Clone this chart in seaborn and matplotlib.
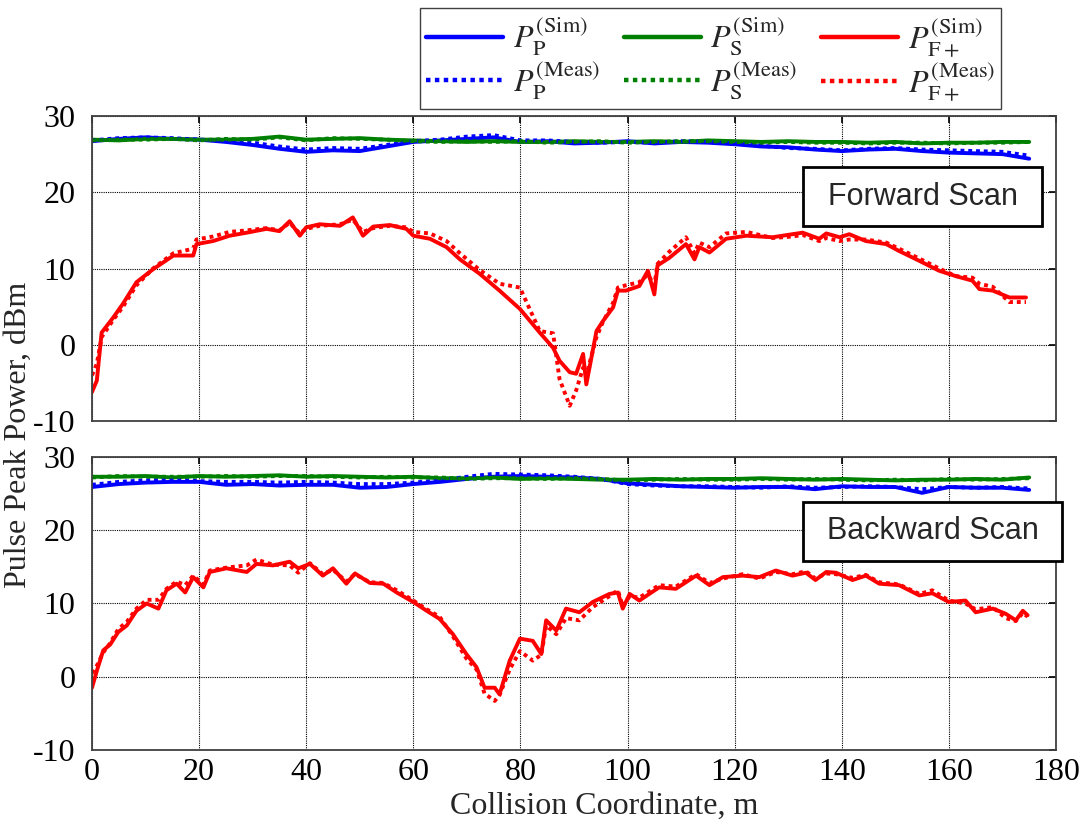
import numpy as np
import pandas as pd
import matplotlib
matplotlib.use('Agg')
import matplotlib.pyplot as plt
import seaborn as sns
from matplotlib.patches import Rectangle

# Coarse grid for the flat P and S traces (m)
x_flat = np.arange(0, 176, 5)

# ---------------- Forward scan ----------------
fwd_x = [0, 0.9, 1.8, 4, 5.8, 8.3, 11.4, 15.2, 18.9, 19.5, 22.6, 25.7, 28.9, 32.6, 35, 36.9, 38.8, 40,
         42.5, 46.3, 48.7, 50.6, 52.5, 55.6, 58.7, 60, 63.1, 66.2, 68.7, 72.4, 76.1, 79.9, 83.6, 86.1, 87.3,
         89.2, 90.4, 91.7, 92.3, 94.2, 95.4, 97.3, 98.2, 99.7, 102.2, 103.8, 105, 105.6, 107.8, 110.9, 112.5,
         113.4, 115.3, 118.4, 122.2, 127.1, 130.8, 132.7, 135.8, 137.1, 139.6, 141.4, 144.5, 148.3, 150.7,
         154.5, 158.2, 161.3, 164.4, 165.7, 168.2, 171.3, 174.4]
fwd_f_sim = [-6.2, -4.7, 1.6, 3.6, 5.4, 8.2, 9.9, 11.7, 11.7, 13.2, 13.6, 14.3, 14.7, 15.2, 14.9, 16.2, 14.3,
             15.4, 15.8, 15.6, 16.7, 14.3, 15.5, 15.7, 15.2, 14.3, 13.9, 12.8, 11.2, 9.3, 7.1, 4.7, 1.6, -0.4,
             -2.1, -3.6, -3.8, -1.2, -5.2, 1.8, 3.1, 4.9, 7.1, 7.1, 7.7, 9.7, 6.6, 10.4, 11.4, 13.2, 11.2, 12.8,
             12.1, 13.9, 14.3, 14.1, 14.5, 14.7, 13.9, 14.6, 14.1, 14.5, 13.6, 13.2, 12.3, 11.0, 9.7, 9.0, 8.4,
             7.3, 7.1, 6.2, 6.2]
fwd_f_meas = [-4.0, -2.5, 1.0, 3.3, 5.0, 7.8, 10.0, 12.0, 12.6, 13.8, 14.2, 14.8, 15.0, 15.3, 15.0, 16.0, 14.6,
              15.2, 15.6, 15.8, 16.4, 14.8, 15.3, 15.6, 15.4, 14.8, 14.6, 13.6, 12.0, 9.8, 8.0, 7.5, 1.8, 1.5,
              -4.5, -8.0, -6.0, -3.0, -4.0, 1.0, 3.0, 5.5, 7.5, 7.8, 8.2, 9.2, 7.8, 10.6, 12.2, 14.1, 12.0, 13.4,
              12.8, 14.6, 14.8, 14.0, 14.2, 14.4, 13.6, 14.0, 13.6, 13.8, 13.8, 13.4, 12.6, 11.3, 10.0, 9.0, 8.8,
              8.0, 7.6, 5.6, 5.6]
fwd_p_sim = [26.7, 27.0, 27.2, 27.0, 26.9, 26.6, 26.2, 25.7, 25.3, 25.5, 25.4, 26.0, 26.6, 26.8, 27.0, 27.2,
             26.6, 26.7, 26.4, 26.5, 26.7, 26.4, 26.6, 26.5, 26.3, 26.0, 25.9, 25.6, 25.4, 25.6, 25.7, 25.4,
             25.2, 25.1, 25.0, 24.4]
fwd_p_meas = [26.8, 27.1, 27.2, 27.1, 26.9, 26.8, 26.5, 26.0, 25.6, 25.8, 25.7, 26.2, 26.7, 26.9, 27.3, 27.5,
              26.8, 26.8, 26.6, 26.5, 26.6, 26.5, 26.7, 26.6, 26.4, 26.1, 25.8, 25.7, 25.5, 25.7, 25.8, 25.6,
              25.5, 25.4, 25.3, 24.8]
fwd_s_sim = [26.9, 26.8, 27.0, 27.0, 26.9, 26.9, 27.0, 27.3, 26.9, 27.0, 27.1, 26.9, 26.8, 26.7, 26.6, 26.7,
             26.6, 26.6, 26.7, 26.6, 26.6, 26.7, 26.6, 26.8, 26.7, 26.6, 26.7, 26.6, 26.6, 26.5, 26.6, 26.4,
             26.5, 26.5, 26.6, 26.6]
fwd_s_meas = [26.8, 26.9, 26.9, 27.0, 26.8, 27.0, 26.9, 27.2, 26.8, 27.1, 27.0, 26.9, 26.7, 26.6, 26.7, 26.6,
              26.7, 26.5, 26.6, 26.7, 26.5, 26.6, 26.7, 26.7, 26.6, 26.5, 26.6, 26.5, 26.5, 26.4, 26.5, 26.5,
              26.4, 26.5, 26.5, 26.6]

# ---------------- Backward scan ----------------
bwd_x = [0, 0.9, 2.1, 3.4, 4.9, 6.5, 8.3, 10.2, 12.4, 13.9, 15.8, 17.4, 18.9, 20.8, 22.0, 25.1, 28.9, 30.7,
         33.8, 36.9, 38.5, 40.7, 43.1, 45, 47.5, 49.1, 51.9, 54.4, 56.9, 60, 62.5, 64.9, 67.4, 69.9, 71.8,
         73.3, 75.2, 76.1, 78, 79.9, 82.3, 83.9, 84.8, 86.7, 88.5, 91, 93.5, 96.6, 98.2, 99.1, 100.4, 102.2,
         105.9, 109, 112.8, 115.3, 117.8, 121.5, 124.6, 127.7, 130.8, 133.3, 135.1, 137.1, 138.9, 142, 144.5,
         147, 150.7, 154.5, 156.9, 160, 163.1, 165, 168.2, 170.6, 172.5, 173.8, 174.7]
bwd_f_sim = [-1.5, 0.8, 3.6, 4.4, 6.1, 7.0, 9.0, 10.0, 9.3, 11.8, 12.7, 11.5, 13.6, 12.2, 14.3, 14.8, 14.3,
             15.4, 15.2, 15.7, 14.8, 15.4, 13.8, 14.8, 12.7, 14.1, 12.8, 12.7, 11.5, 10.2, 9.0, 7.9, 5.8, 3.1,
             1.3, -1.5, -1.5, -2.4, 2.2, 5.2, 4.9, 3.1, 7.7, 6.3, 9.3, 8.8, 10.2, 11.3, 11.5, 9.3, 11.3, 10.4,
             12.2, 12.0, 13.8, 12.5, 13.6, 13.8, 13.6, 14.5, 13.8, 14.2, 13.2, 14.3, 14.2, 13.2, 13.8, 12.7,
             12.5, 11.1, 11.4, 10.2, 10.4, 8.8, 9.3, 8.6, 7.7, 9.0, 8.4]
bwd_f_meas = [0.5, 1.5, 3.3, 4.6, 6.5, 7.5, 9.3, 10.5, 10.5, 12.0, 13.0, 12.5, 13.8, 12.6, 14.5, 14.9, 15.2,
              16.0, 15.3, 15.2, 14.2, 15.5, 14.0, 14.6, 13.0, 14.0, 12.9, 12.8, 11.8, 10.4, 9.2, 8.2, 5.5, 2.5,
              1.0, -2.3, -3.3, -2.5, 1.0, 3.5, 2.2, 3.0, 7.0, 5.8, 8.0, 7.7, 9.5, 11.0, 11.8, 9.6, 11.0, 10.8,
              12.5, 12.3, 14.0, 12.8, 13.4, 14.0, 13.4, 14.3, 14.0, 14.4, 13.4, 14.1, 14.0, 13.5, 13.9, 12.9,
              12.6, 11.3, 11.8, 10.4, 10.0, 9.2, 9.5, 8.0, 7.6, 8.7, 8.2]
bwd_p_sim = [25.9, 26.3, 26.5, 26.6, 26.6, 26.2, 26.3, 26.1, 26.2, 26.2, 25.8, 25.9, 26.3, 26.6, 27.0, 27.3,
             27.4, 27.3, 27.2, 27.0, 26.4, 26.2, 26.0, 25.9, 25.8, 25.9, 25.9, 25.6, 26.0, 25.9, 25.9, 25.1,
             25.9, 25.8, 25.8, 25.5]
bwd_p_meas = [26.2, 26.6, 26.8, 26.9, 26.7, 26.6, 26.6, 26.5, 26.6, 26.5, 26.3, 26.3, 26.5, 26.8, 27.3, 27.7,
              27.6, 27.5, 27.3, 27.0, 26.3, 26.1, 26.0, 26.0, 25.9, 25.8, 26.0, 25.8, 25.9, 26.0, 25.9, 25.6,
              25.9, 25.8, 25.9, 25.7]
bwd_s_sim = [27.3, 27.3, 27.4, 27.2, 27.4, 27.3, 27.4, 27.5, 27.3, 27.4, 27.3, 27.2, 27.3, 27.1, 27.1, 27.2,
             27.0, 27.1, 27.0, 26.9, 26.9, 27.0, 26.9, 27.0, 27.0, 27.1, 27.0, 26.9, 27.0, 26.9, 26.8, 26.9,
             26.9, 27.0, 26.9, 27.2]
bwd_s_meas = [27.2, 27.4, 27.3, 27.3, 27.3, 27.4, 27.3, 27.4, 27.4, 27.3, 27.2, 27.3, 27.2, 27.2, 27.0, 27.1,
              27.1, 27.0, 27.1, 27.0, 26.8, 26.9, 27.0, 26.9, 26.9, 27.0, 26.9, 27.0, 26.9, 26.8, 26.9, 26.8,
              27.0, 26.9, 27.0, 27.1]

labels = {
    'p_sim': r'$P_{\mathrm{P}}^{\mathrm{(Sim)}}$',
    's_sim': r'$P_{\mathrm{S}}^{\mathrm{(Sim)}}$',
    'f_sim': r'$P_{\mathrm{F+}}^{\mathrm{(Sim)}}$',
    'p_meas': r'$P_{\mathrm{P}}^{\mathrm{(Meas)}}$',
    's_meas': r'$P_{\mathrm{S}}^{\mathrm{(Meas)}}$',
    'f_meas': r'$P_{\mathrm{F+}}^{\mathrm{(Meas)}}$',
}

BLUE = '#0000ff'
GREEN = '#008000'
RED = '#ff0000'
DOTS = (0, (1, 1))
LW = 2.8

sns.set_theme(style='white')
plt.rcParams['font.family'] = ['Liberation Serif', 'DejaVu Serif']
plt.rcParams['mathtext.fontset'] = 'stix'
plt.rcParams['axes.unicode_minus'] = False

fig = plt.figure(figsize=(10.9, 8.21), dpi=100)
ax1 = fig.add_axes([0.0844, 0.4872, 0.8844, 0.3715])
ax2 = fig.add_axes([0.0844, 0.0865, 0.8844, 0.3569])


def draw_panel(ax, rx, f_sim, f_meas, p_sim, p_meas, s_sim, s_meas):
    sns.lineplot(x=x_flat, y=p_sim, ax=ax, color=BLUE, lw=LW, label=labels['p_sim'])
    sns.lineplot(x=x_flat, y=s_sim, ax=ax, color=GREEN, lw=LW, label=labels['s_sim'])
    sns.lineplot(x=rx, y=f_sim, ax=ax, color=RED, lw=LW, label=labels['f_sim'])
    sns.lineplot(x=x_flat, y=p_meas, ax=ax, color=BLUE, lw=LW, linestyle=DOTS, label=labels['p_meas'])
    sns.lineplot(x=x_flat, y=s_meas, ax=ax, color=GREEN, lw=LW, linestyle=DOTS, label=labels['s_meas'])
    sns.lineplot(x=rx, y=f_meas, ax=ax, color=RED, lw=LW, linestyle=DOTS, label=labels['f_meas'])

    ax.set_xlim(0, 180)
    ax.set_ylim(-10, 30)
    ax.set_xticks(range(0, 181, 20))
    ax.set_yticks([-10, 0, 10, 20, 30])
    ax.set_xlabel('')
    ax.set_ylabel('')
    ax.grid(True, color='black', linestyle=(0, (1, 1)), lw=0.8)
    ax.tick_params(direction='in', top=True, right=True, length=5, width=1.2,
                   labelsize=23, pad=6, colors='black')
    ax.tick_params(axis='y', pad=12)
    for sp in ax.spines.values():
        sp.set_color('#404040')
        sp.set_linewidth(1.3)


draw_panel(ax1, fwd_x, fwd_f_sim, fwd_f_meas, fwd_p_sim, fwd_p_meas, fwd_s_sim, fwd_s_meas)
draw_panel(ax2, bwd_x, bwd_f_sim, bwd_f_meas, bwd_p_sim, bwd_p_meas, bwd_s_sim, bwd_s_meas)
ax1.tick_params(labelbottom=False)

handles, labs = ax1.get_legend_handles_labels()
ax1.get_legend().remove()
ax2.get_legend().remove()

# column-major filling: sim on the first row, meas on the second
order = [0, 3, 1, 4, 2, 5]
leg = fig.legend([handles[i] for i in order], [labs[i] for i in order], ncol=3,
                 loc='upper left', bbox_to_anchor=(0.3853, 0.99), borderaxespad=0, fontsize=23,
                 frameon=True, fancybox=False, framealpha=1, edgecolor='#404040',
                 handlelength=2.4, handletextpad=0.3, columnspacing=0.75,
                 labelspacing=0.0, borderpad=0.2)
leg.get_frame().set_linewidth(1.0)
for ln in leg.get_lines():
    ln.set_linewidth(3.2)

# scan direction boxes
for ax, (x0, y0, w, h) in [(ax1, (0.7376, 0.639, 0.248, 0.193)),
                           (ax2, (0.7376, 0.645, 0.2687, 0.201))]:
    ax.add_patch(Rectangle((x0, y0), w, h, transform=ax.transAxes, facecolor='white',
                           edgecolor='black', lw=2, clip_on=False, zorder=5))
ax1.text(0.8616, 0.736, 'Forward Scan', transform=ax1.transAxes, ha='center', va='center',
         fontsize=22, family=['Liberation Sans', 'DejaVu Sans'], zorder=6)
ax2.text(0.872, 0.746, 'Backward Scan', transform=ax2.transAxes, ha='center', va='center',
         fontsize=22, family=['Liberation Sans', 'DejaVu Sans'], zorder=6)

fig.text(0.017, 0.47, 'Pulse Peak Power, dBm', rotation=90, ha='center', va='center', fontsize=23)
fig.text(0.554, 0.018, 'Collision Coordinate, m', ha='center', va='center', fontsize=23)

fig.savefig('out.png', dpi=100)
